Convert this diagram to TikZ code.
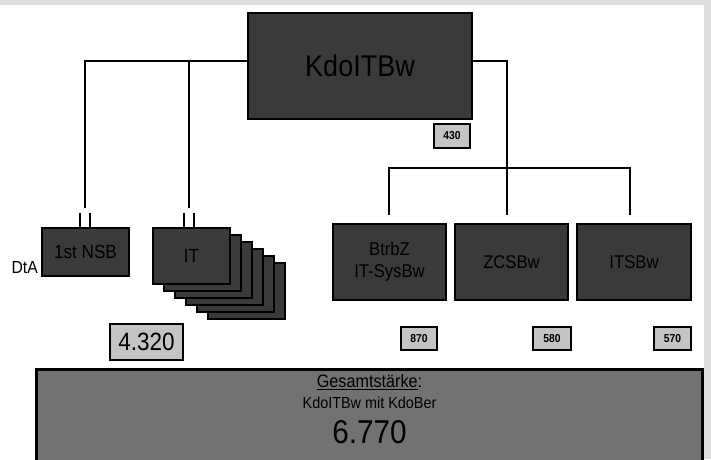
\documentclass[tikz,border=0pt]{standalone}
\usepackage{fontspec}
\setmainfont{Liberation Sans}[FakeStretch=0.9]
\usetikzlibrary{positioning,calc}
\definecolor{boxgray}{HTML}{3A3A3A}
\definecolor{numgray}{HTML}{C4C4C4}
\definecolor{totgray}{HTML}{727272}
\definecolor{rimgray}{HTML}{DDDDDD}
\newcommand{\fs}[1]{\fontsize{#1}{1.2\dimexpr#1pt\relax}\selectfont}

\begin{document}
\begin{tikzpicture}[x=1pt,y=-1pt,
  unit/.style={draw=black,line width=1.8pt,fill=boxgray,text=black,inner sep=0pt,align=center,font=\fs{18.5}},
  num/.style={draw=black,line width=1.8pt,fill=numgray,text=black,inner sep=0pt,minimum height=23pt,font=\fs{11.5}\bfseries},
  link/.style={draw=black,line width=2.6pt}]
\useasboundingbox (0,0) rectangle (711,459);
\fill[white] (0,0) rectangle (711,459);
\fill[rimgray] (0,0) rectangle (711,4.5);
\fill[rimgray] (703.5,0) rectangle (711,459);
% top command
\node[unit,minimum width=224pt,minimum height=106pt,font=\fs{30}] (kdo) at (360,66) {KdoITBw};
\node[num,minimum width=36pt,minimum height=24pt] (n430) at (452,136) {430};
% left branch
\node[unit,minimum width=87pt,minimum height=48pt,font=\fs{19}] (nsb) at (85.5,252) {1st NSB};
\node[font=\fs{17.5},anchor=east,inner sep=0pt] (dta) at (38,268) {DtA};
\foreach \k in {5,4,...,1}
  \node[unit,minimum width=77pt,minimum height=56pt] (it\k) at (191.5+11*\k,256+7*\k) {};
\node[unit,minimum width=77pt,minimum height=56pt,font=\fs{19}] (it) at (191.5,256) {IT};
\node[num,minimum width=73pt,minimum height=36pt,font=\fs{25}] (n4320) at (146.5,342) {4.320};
% right branch
\node[unit,minimum width=113pt,minimum height=76pt] (btrbz) at (389.5,262) {BtrbZ\\IT-SysBw};
\node[unit,minimum width=113pt,minimum height=76pt] (zcsbw) at (511.5,262) {ZCSBw};
\node[unit,minimum width=114pt,minimum height=76pt] (itsbw) at (634,262) {ITSBw};
\node[num,minimum width=36pt] (n870) at (419,338.5) {870};
\node[num,minimum width=38pt] (n580) at (552,338.5) {580};
\node[num,minimum width=37pt] (n570) at (672.5,338.5) {570};
% junctions
\coordinate (jl) at (85,61);
\coordinate (jit) at (189,61);
\coordinate (jr) at (507,61);
\coordinate (jm) at (507,168);
\coordinate (jb) at (389,168);
\coordinate (ji) at (630,168);
\coordinate (jbot) at (0,215);
\coordinate (gap) at (0,208);
\draw[link] (kdo.west|-jl) -- (jl) -- (jl|-gap);
\draw[link] (jit) -- (jit|-gap);
\draw[link] (kdo.east|-jr) -- (jr) -- (jm);
\draw[link] (jb|-jbot) -- (jb) -- (ji) -- (ji|-jbot);
\draw[link] (jm) -- (jm|-jbot);
% broken links
\foreach \n/\c in {nsb/jl,it/jit}{
  \draw[draw=black,line width=2.2pt] ([xshift=-5pt]\c|-\n.north) -- ++(0,-14);
  \draw[draw=black,line width=2.2pt] ([xshift=5pt]\c|-\n.north) -- ++(0,-14);
}
% total
\draw[draw=black,line width=3pt,fill=totgray] (36,369.5) rectangle (702.5,475);
\node[align=center,inner sep=0pt,font=\fs{16}] (total) at (369.5,409) {{\fs{18}\underline{Gesamtstärke}:}\\[2pt]{\fs{16}KdoITBw mit KdoBer}\\[11pt]{\fs{33}6.770}};
\end{tikzpicture}
\end{document}
